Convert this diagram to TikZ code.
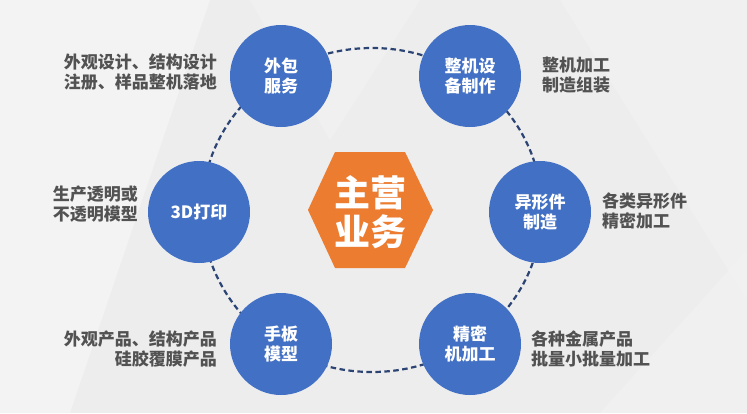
\documentclass[tikz,border=0pt]{standalone}
\usepackage{fontspec}
\setmainfont{Noto Sans CJK SC}
\usepackage{tikz}
\usetikzlibrary{backgrounds}
\definecolor{paper}{RGB}{237, 237, 238}
\definecolor{facet}{RGB}{243, 243, 244}
\definecolor{ringline}{RGB}{44, 68, 116}
\definecolor{bubbleblue}{RGB}{66, 112, 196}
\definecolor{hexorange}{RGB}{236, 124, 48}
\definecolor{notegray}{RGB}{82, 82, 82}

\begin{document}
\begin{tikzpicture}[x=1pt, y=-1pt,
  bubble/.style={circle, fill=bubbleblue, minimum size=102pt, inner sep=0pt,
    text=white, align=center, font=\bfseries\fontsize{17}{20}\selectfont},
  remark/.style={text=notegray, inner sep=0pt, font=\bfseries\fontsize{17}{20}\selectfont},
  ring/.style={ringline, line width=2.2pt, dash pattern=on 5.5pt off 3.5pt}]
  \begin{scope}
    % background with faint facets
    \fill[paper] (0, 0) rectangle (747, 413);
    \fill[facet] (0, 0) -- (210, 0) -- (70, 413) -- (0, 413) -- cycle;
    \fill[facet, opacity=0.6] (560, 0) -- (747, 0) -- (747, 300) -- cycle;
    \fill[facet, opacity=0.5] (600, 413) -- (747, 250) -- (747, 413) -- cycle;
    \fill[white, opacity=0.2] (250, 0) -- (420, 0) -- (330, 140) -- cycle;

    % dashed ring
    \draw[ring] (372, 210) ellipse [x radius=170, y radius=162];

    \foreach \name/\x/\y/\txt in {wb/281/76/{外包\\服务}, zj/470/76/{整机设\\备制作},
        dp/199/212/{3D打印}, yx/540/212/{异形件\\制造},
        sb/281/344/{手板\\模型}, jm/470/344/{精密\\机加工}} {
      \node[bubble] (\name) at (\x, \y) {\txt};
    }

    \fill[hexorange] (308, 210) -- (335, 152) -- (405, 152) -- (433, 210)
      -- (405, 268) -- (335, 268) -- cycle;
    \node[text=white, align=center, inner sep=0pt,
      font=\bfseries\fontsize{36}{39}\selectfont] (core) at (370, 212) {主营\\业务};

    \node[remark, anchor=east, align=right] (wbnote) at (217, 72) {外观设计、结构设计\\注册、样品整机落地};
    \node[remark, anchor=west, align=left] (zjnote) at (542, 75) {整机加工\\制造组装};
    \node[remark, anchor=east, align=right] (dpnote) at (138, 204) {生产透明或\\不透明模型};
    \node[remark, anchor=west, align=left] (yxnote) at (602, 211) {各类异形件\\精密加工};
    \node[remark, anchor=east, align=right] (sbnote) at (217, 349) {外观产品、结构产品\\硅胶覆膜产品};
    \node[remark, anchor=west, align=left] (jmnote) at (531, 349) {各种金属产品\\批量小批量加工};
  \end{scope}
\end{tikzpicture}
\end{document}
